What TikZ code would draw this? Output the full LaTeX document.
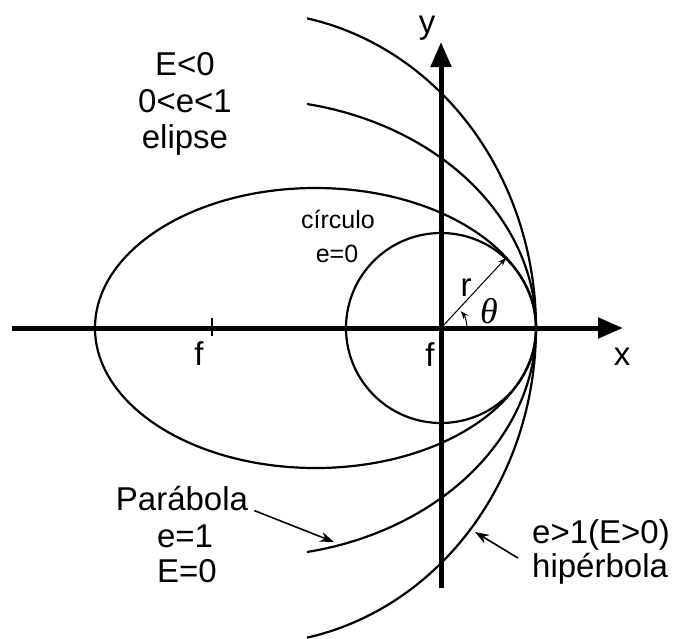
\documentclass[tikz,border=0pt]{standalone}
\usepackage{fontspec}
\setmainfont{Liberation Sans}
\newfontfamily\thetafont{Liberation Serif}
\usetikzlibrary{arrows.meta}
\begin{document}
\begin{tikzpicture}[x=1pt,y=-1pt,
  axisline/.style={line width=5pt,-{Triangle[length=25pt,width=20pt]}},
  curve/.style={line width=2.2pt},
  big/.style={font=\fontsize{33}{37}\selectfont, inner sep=0pt},
  small/.style={font=\fontsize{25}{29}\selectfont, inner sep=0pt},
  pointer/.style={line width=1.6pt,-{Stealth[length=14pt,width=10pt]}},
  thinarrow/.style={line width=1pt,-{Stealth[length=8pt,width=6pt]}}]
\useasboundingbox (0,0) rectangle (685,638);
% coordinates
\coordinate (f) at (441,328);
\coordinate (xstart) at (12,328);
\coordinate (xend) at (623,328);
\coordinate (ystart) at (441,588);
\coordinate (yend) at (441,42);
\coordinate (rtip) at (506,258);
\coordinate (arcstart) at (467,328);
\coordinate (tickA) at (212,318);
\coordinate (tickB) at (212,336);
% curves
\draw[curve] (f) circle[radius=95];
\draw[curve] (315.5,328) ellipse[x radius=220.5, y radius=140];
\draw[curve] plot[domain=-78.5:78.5, samples=90, smooth] ({250+286*cos(\x)}, {328-228.6*sin(\x)});
\draw[curve] plot[domain=-78.5:78.5, samples=90, smooth] ({250+286*cos(\x)}, {328-316*sin(\x)});
% axes
\draw[axisline] (xstart) -- (xend);
\draw[axisline] (ystart) -- (yend);
\draw[line width=2pt] (tickA) -- (tickB);
% r and theta
\draw[thinarrow] (f) -- (rtip);
\draw[thinarrow] (arcstart) arc[start angle=0, end angle=-40, radius=26];
% labels
\node[big, anchor=base] (ylab) at (427,33) {y};
\node[big, anchor=base] (xlab) at (622,365) {x};
\node[big, anchor=base] (flab) at (430,366) {f};
\node[big, anchor=base] (fplab) at (199,365) {f};
\node[big, anchor=center] (rlab) at (466,288) {r};
\node[anchor=center, inner sep=0pt, font=\fontsize{36}{38}\selectfont\thetafont\itshape] (thlab) at (489,311) {θ};
\node[big, anchor=base] (e1) at (185,75) {E<0};
\node[big, anchor=base] (e2) at (185,112) {0<e<1};
\node[big, anchor=base] (e3) at (185,148) {elipse};
\node[small, anchor=base] (c1) at (338,228) {círculo};
\node[small, anchor=base] (c2) at (337,262) {e=0};
\node[big, anchor=base] (p1) at (182,510) {Parábola};
\node[big, anchor=base] (p2) at (185,547) {e=1};
\node[big, anchor=base] (p3) at (187,582) {E=0};
\node[big, anchor=base west] (h1) at (532,543) {e>1(E>0)};
\node[big, anchor=base west] (h2) at (532,577) {hipérbola};
% pointers
\coordinate (ptip) at (334,542);
\coordinate (htip) at (475,532);
\draw[pointer] (p1.south east) ++(6,0) -- (ptip);
\draw[pointer] (h1.south west) ++(-14,8) -- (htip);
\end{tikzpicture}
\end{document}
